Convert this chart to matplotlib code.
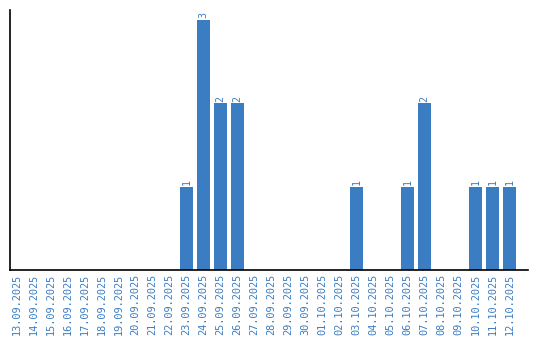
import matplotlib
matplotlib.use("Agg")
import matplotlib.pyplot as plt

dates = ["13.09.2025", "14.09.2025", "15.09.2025", "16.09.2025", "17.09.2025",
         "18.09.2025", "19.09.2025", "20.09.2025", "21.09.2025", "22.09.2025",
         "23.09.2025", "24.09.2025", "25.09.2025", "26.09.2025", "27.09.2025",
         "28.09.2025", "29.09.2025", "30.09.2025", "01.10.2025", "02.10.2025",
         "03.10.2025", "04.10.2025", "05.10.2025", "06.10.2025", "07.10.2025",
         "08.10.2025", "09.10.2025", "10.10.2025", "11.10.2025", "12.10.2025"]
counts = [0, 0, 0, 0, 0, 0, 0, 0, 0, 0,
          1, 3, 2, 2, 0, 0, 0, 0, 0, 0,
          1, 0, 0, 1, 2, 0, 0, 1, 1, 1]

color = "#3b7dc2"
fig = plt.figure(figsize=(5.4, 3.4), dpi=100)
ax = fig.add_axes([10/540, 70/340, 518/540, 260/340])
x = list(range(len(dates)))
ax.bar(x, counts, width=0.8, color=color)
for xi, v in zip(x, counts):
    if v > 0:
        ax.text(xi, v + 0.02, str(v), rotation=90, ha="center", va="bottom",
                color=color, fontsize=7.2, family="DejaVu Sans Mono")
ax.set_xlim(-0.38, 30.09)
ax.set_ylim(0, 3.12)
ax.set_xticks(x)
ax.set_xticklabels(dates, rotation=90, color=color, fontsize=7.4,
                   family="DejaVu Sans Mono")
ax.tick_params(axis="x", length=0, pad=3)
ax.set_yticks([])
for s in ["top", "right"]:
    ax.spines[s].set_visible(False)
ax.spines["left"].set_linewidth(1.2)
ax.spines["bottom"].set_linewidth(1.2)
fig.savefig("out.png", dpi=100)
